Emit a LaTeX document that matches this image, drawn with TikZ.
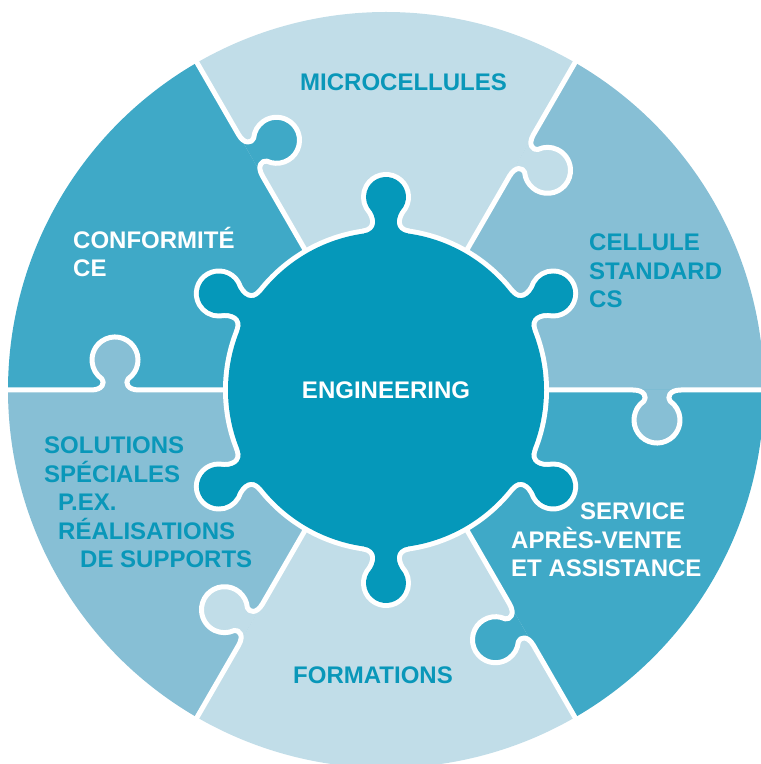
\documentclass[tikz,border=0pt]{standalone}
\usepackage{fontspec}
\setmainfont{Liberation Sans}
\definecolor{pzlight}{HTML}{C1DDE8}
\definecolor{pzmid}{HTML}{87BFD5}
\definecolor{pzdark}{HTML}{3FA9C7}
\definecolor{pzcore}{HTML}{0598BA}
\definecolor{pztext}{HTML}{0997B9}
% knob of the core, pointing along +x
\newcommand{\coreknob}{(140,0) -- (156.5,-22) .. controls (159,-8) and (172,-8) .. (183,-17.3) arc[start angle=-120, end angle=120, radius=20] .. controls (172,8) and (159,8) .. (156.5,22) -- cycle}
% tab on a seam along +x, bulging to the clockwise side
\newcommand{\seamtab}{.. controls (259,0) and (261,-7.5) .. (257.8,-11.2) arc[start angle=125, end angle=415, radius=23] .. controls (281,-7.5) and (283,0) .. (295,0)}
\begin{document}
\begin{tikzpicture}[x=1bp,y=1bp,line join=round,
  seamline/.style={draw=white,line width=5bp},
  coreedge/.style={draw=white,line width=10bp},
  piecetext/.style={font=\bfseries\fontsize{24bp}{28.5bp}\selectfont,inner sep=0pt,align=left,anchor=base west},
]
\useasboundingbox (0,0) rectangle (761,764);
%%
\begin{scope}[shift={(386,374)}]
  \foreach \a/\col in {0/pzmid,60/pzlight,120/pzdark,180/pzmid,240/pzlight,300/pzdark}
    \fill[\col] (0,0) -- (\a:378) arc[start angle=\a, end angle=\a+60, radius=378] -- cycle;
  \foreach \a/\col in {0/pzmid,60/pzlight,120/pzdark,180/pzmid,240/pzlight,300/pzdark}{
    \fill[\col,rotate=\a] (247,0) \seamtab -- cycle;
    \draw[seamline,rotate=\a] (150,0) -- (247,0) \seamtab -- (385,0);
  }
  \draw[coreedge] (0,0) circle[radius=158];
  \foreach \a in {30,90,...,330}
    \draw[coreedge,rotate=\a] \coreknob;
  \fill[pzcore] (0,0) circle[radius=158];
  \foreach \a in {30,90,...,330}
    \fill[pzcore,rotate=\a] \coreknob;
\end{scope}
% multi-line labels sit on their last baseline
\node (microcellules) at (300bp,673bp) [piecetext,text=pztext] {MICROCELLULES};
\node (conformite) at (73bp,487bp) [piecetext,text=white] {CONFORMITÉ\\CE};
\node (cellule) at (589bp,456bp) [piecetext,text=pztext] {CELLULE\\STANDARD\\CS};
\node (engineering) at (386bp,365bp) [piecetext,anchor=base,text=white] {ENGINEERING};
\node (solutions) at (44bp,196bp) [piecetext,text=pztext] {SOLUTIONS\\SPÉCIALES\\\hspace*{14bp}P.EX.\\\hspace*{14bp}RÉALISATIONS\\\hspace*{36bp}DE SUPPORTS};
\node (service) at (511bp,187bp) [piecetext,text=white] {\hspace*{69bp}SERVICE\\APRÈS-VENTE\\ET ASSISTANCE};
\node (formations) at (293bp,80bp) [piecetext,text=pztext] {FORMATIONS};
%
\end{tikzpicture}
\end{document}
